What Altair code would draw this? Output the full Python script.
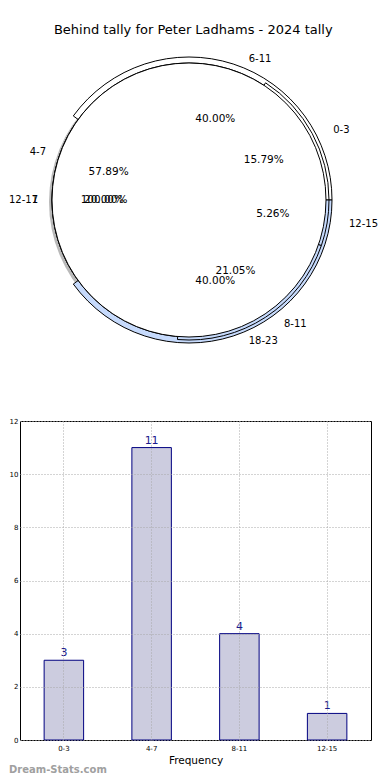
import math
import altair as alt
import pandas as pd

# ---------------- data ----------------
pie1_labels = ["0-3", "4-7", "8-11", "12-15"]
pie1_values = [3, 11, 4, 1]
pie2_labels = ["6-11", "12-17", "18-23"]
pie2_values = [2, 1, 2]
pie3_labels = ["1"]
pie3_values = [1]

bar_categories = ["0-3", "4-7", "8-11", "12-15"]
bar_values = [3, 11, 4, 1]

title_text = "Behind tally for Peter Ladhams - 2024 tally"

# ---------------- derived tables ----------------
rows = []
for pid, labels, values in [(1, pie1_labels, pie1_values),
                            (2, pie2_labels, pie2_values),
                            (3, pie3_labels, pie3_values)]:
    total = float(sum(values))
    cum = 0.0
    for lab, v in zip(labels, values):
        start = cum / total
        end = (cum + v) / total
        mid = (start + end) / 2
        side = "right" if math.cos(2 * math.pi * mid) >= 0 else "left"
        rows.append(dict(pie=pid, label=lab, value=v, start=start, end=end,
                         mid=mid, side=side, pct=f"{100 * v / total:.2f}%"))
        cum += v
pie_df = pd.DataFrame(rows)
bar_df = pd.DataFrame({"cat": bar_categories, "val": bar_values})

# ---------------- styles ----------------
FONT = "DejaVu Sans"
BLUE = "#c6dafc"
fill_map = {"0-3": "white", "4-7": "white", "8-11": BLUE, "12-15": BLUE,
            "6-11": "white", "12-17": "white", "18-23": BLUE, "1": "white"}
R = 137
CX, CY = 169, 153
PIE_W, PIE_H = 351, 320
BAR_W, BAR_H = 351, 319

theta_scale = alt.Scale(domain=[0, 1], range=[math.pi / 2 + 2 * math.pi, math.pi / 2])
color_enc = alt.Color("label:N",
                      scale=alt.Scale(domain=list(fill_map.keys()),
                                      range=list(fill_map.values())),
                      legend=None)

base = alt.Chart(pie_df)


def arcs(labels, radius):
    return base.mark_arc(radius=radius, stroke="black", strokeWidth=1).encode(
        theta=alt.Theta("start:Q", scale=theta_scale, stack=None),
        theta2="end:Q",
        color=color_enc,
        x=alt.value(CX), y=alt.value(CY),
    ).transform_filter(alt.FieldOneOfPredicate(field="label", oneOf=labels))


shadow = base.mark_arc(radius=R + 1, fill="#808080", opacity=0.55).encode(
    theta=alt.Theta("start:Q", scale=theta_scale, stack=None),
    theta2="end:Q",
    x=alt.value(CX - 2), y=alt.value(CY + 2),
).transform_filter(alt.datum.pie == 3)

layers = [
    shadow,
    arcs(["6-11", "18-23"], R + 6),
    arcs(["12-17"], R),
    arcs(["0-3", "8-11", "12-15"], R + 3),
    arcs(["4-7"], R),
    arcs(["1"], R),
]

pct_text = base.mark_text(radius=85, fontSize=10.5, font=FONT, color="black",
                          align="center", baseline="middle").encode(
    theta=alt.Theta("mid:Q", scale=theta_scale, stack=None),
    text="pct:N",
    x=alt.value(CX), y=alt.value(CY),
)
lab_right = base.mark_text(radius=148, dx=14, fontSize=10, font=FONT, color="black",
                           align="left", baseline="middle").encode(
    theta=alt.Theta("mid:Q", scale=theta_scale, stack=None),
    text="label:N",
    x=alt.value(CX), y=alt.value(CY),
).transform_filter(alt.datum.side == "right")
lab_left = base.mark_text(radius=148, dx=-3, fontSize=10, font=FONT, color="black",
                          align="right", baseline="middle").encode(
    theta=alt.Theta("mid:Q", scale=theta_scale, stack=None),
    text="label:N",
    x=alt.value(CX), y=alt.value(CY),
).transform_filter(alt.datum.side == "left")

pie_chart = alt.layer(*layers, pct_text, lab_right, lab_left).properties(
    width=PIE_W, height=PIE_H,
    view=alt.ViewBackground(strokeWidth=0, stroke="transparent"))

# ---------------- bar chart ----------------
grid_kw = dict(grid=True, gridDash=[1, 2], gridColor="#a8a8a8", gridWidth=1,
               ticks=False, tickSize=0, domain=False, zindex=1, labelFont=FONT,
               labelFontSize=7, labelColor="black")

bars = alt.Chart(bar_df).mark_bar(
    width=alt.RelativeBandSize(0.45), fill="#ccccdf", stroke="#000080", strokeWidth=1
).encode(
    x=alt.X("cat:N", sort=bar_categories,
            scale=alt.Scale(paddingInner=0, paddingOuter=0),
            axis=alt.Axis(title="Frequency", labelAngle=0, labelPadding=4,
                          bandPosition=0.5, titleFont=FONT, titleFontSize=10.5,
                          titleFontWeight="normal", titlePadding=4, **grid_kw)),
    y=alt.Y("val:Q", scale=alt.Scale(domain=[0, 12], nice=False),
            axis=alt.Axis(values=[0, 2, 4, 6, 8, 10, 12], title=None,
                          labelPadding=2, **grid_kw)),
)
vals = alt.Chart(bar_df).mark_text(baseline="bottom", dy=-2, fontSize=11, font=FONT,
                                   color="#1a1a8c").encode(
    x=alt.X("cat:N", sort=bar_categories),
    y=alt.Y("val:Q"),
    text="val:Q",
)
watermark = alt.Chart(pd.DataFrame({"t": ["Dream-Stats.com"]})).mark_text(
    align="left", baseline="middle", fontSize=10, fontWeight="bold", font=FONT,
    color="#a0a0a0").encode(
    text="t:N", x=alt.value(-11), y=alt.value(BAR_H + 30))

bar_chart = alt.layer(bars, vals, watermark).properties(
    width=BAR_W, height=BAR_H,
    view=alt.ViewBackground(stroke="black", strokeWidth=1))

chart = alt.vconcat(pie_chart, bar_chart, spacing=54, bounds="flush").properties(
    title=alt.TitleParams(title_text, fontSize=13, fontWeight="normal", font=FONT,
                          anchor="middle", offset=10, color="black"),
    padding={"left": 0, "top": 16, "right": 0, "bottom": 0},
).configure_view(strokeWidth=0).configure(font=FONT)

chart.save("out.html", embed_options={"renderer": "svg", "actions": False})
